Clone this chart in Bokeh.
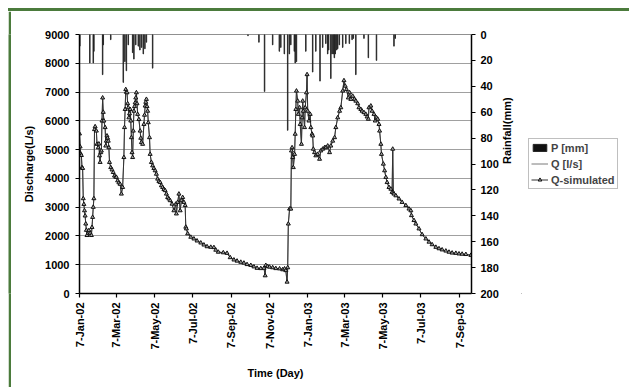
import math
from datetime import datetime
from bokeh.plotting import figure
from bokeh.layouts import row, column
from bokeh.models import (Range1d, LinearAxis, FixedTicker, Legend, LegendItem, Span, Div)
from bokeh.embed import file_html
from bokeh.resources import INLINE

# ---------------- data ----------------
start_date = datetime(2002, 1, 7)
tick_labels = ["7-Jan-02", "7-Mar-02", "7-May-02", "7-Jul-02", "7-Sep-02", "7-Nov-02",
               "7-Jan-03", "7-Mar-03", "7-May-03", "7-Jul-03", "7-Sep-03"]
x_end_day = 627

# discharge, days after 7-Jan-02
q_day = [0, 1, 2, 3, 4, 5, 6, 7, 8, 9, 10, 11, 12, 14, 15, 17, 19, 20, 21, 22, 23, 24, 25, 27, 28,
         30, 31, 32, 33, 34, 35, 36, 37, 38, 39, 41, 42, 43, 44, 45, 46, 47, 48, 50, 52, 54, 56, 58,
         59, 61, 63, 65, 67, 69, 71, 72, 73, 74, 75, 76, 77, 78, 79, 80, 81, 82, 83, 84, 85, 86, 87,
         88, 89, 90, 91, 92, 93, 95, 97, 98, 99, 101, 103, 104, 105, 106, 107, 108, 109, 110, 112,
         113, 115, 117, 119, 121, 123, 125, 127, 129, 131, 133, 135, 137, 139, 141, 143, 145, 148,
         151, 154, 155, 157, 159, 161, 163, 165, 167, 169, 170, 171, 173, 178, 183, 188, 194, 199,
         204, 210, 215, 218, 222, 230, 236, 241, 247, 252, 258, 263, 268, 274, 279, 284, 290, 295,
         297, 298, 301, 304, 309, 314, 320, 325, 328, 330, 332, 333, 334, 336, 338, 339, 340, 341,
         342, 344, 345, 346, 347, 349, 350, 352, 353, 355, 356, 357, 358, 360, 361, 363, 364, 365,
         367, 369, 370, 372, 373, 374, 376, 378, 381, 384, 386, 389, 392, 394, 397, 400, 402, 405,
         408, 410, 413, 416, 418, 421, 423, 425, 427, 430, 432, 434, 437, 440, 442, 445, 447, 450,
         452, 455, 458, 460, 462, 463, 466, 468, 471, 473, 475, 477, 479, 480, 482, 483, 486, 488,
         490, 492, 495, 498, 500, 501, 502, 503, 506, 511, 516, 522, 527, 530, 531, 535, 538, 543,
         548, 554, 559, 564, 570, 575, 580, 586, 591, 596, 602, 607, 612, 618, 626]
q_sim = [5550, 5100, 4850, 4800, 4380, 4350, 3300, 3100, 2880, 2700, 2420, 2200, 2020, 2100, 2190,
         2100, 2020, 2300, 2650, 3000, 3300, 5700, 5800, 5650, 5190, 5070, 5200, 4790, 4560, 4900,
         4960, 6000, 6800, 6300, 6000, 5770, 5130, 5300, 5480, 5400, 5300, 5070, 4560, 4380, 4300,
         4210, 4090, 4050, 4040, 3920, 3850, 3800, 3460, 3690, 4730, 5770, 6400, 7090, 7000, 6980,
         6600, 6460, 6110, 6250, 6400, 6000, 5420, 4900, 4730, 5650, 6340, 6500, 6630, 6800, 6980,
         6600, 6230, 6050, 5650, 5400, 5250, 5190, 5880, 6200, 6520, 6650, 6750, 6500, 6340, 5940,
         5420, 4840, 4560, 4440, 4350, 4270, 4150, 3980, 3900, 3860, 3750, 3690, 3620, 3580, 3460,
         3340, 3290, 3230, 3110, 2880, 3110, 2770, 3170, 3460, 2880, 3230, 3340, 3170, 3060, 2310,
         2250, 2080, 1960, 1900, 1830, 1760, 1690, 1630, 1610, 1600, 1510, 1440, 1420, 1400, 1250,
         1170, 1130, 1090, 1060, 1010, 980, 930, 880, 870, 880, 620, 980, 940, 920, 900, 870, 860,
         830, 860, 800, 400, 900, 2420, 2940, 2940, 4960, 5070, 4730, 4380, 4840, 5540, 6400, 7040,
         6690, 6230, 6460, 5880, 5190, 6110, 6690, 6340, 5770, 6460, 6980, 7610, 6340, 6000, 6230,
         5770, 5540, 5480, 5020, 4900, 4790, 4840, 4670, 4960, 5020, 5070, 5070, 5130, 4900, 5130,
         5300, 5420, 5770, 6110, 6340, 6460, 7040, 7400, 7210, 7090, 6800, 6980, 6750, 6860, 6750,
         6690, 6600, 6460, 6400, 6340, 6290, 6230, 6140, 6060, 6460, 6520, 6340, 6230, 6000, 6110,
         6060, 5880, 5650, 5190, 4840, 4500, 4270, 4040, 3860, 3690, 3630, 3520, 5020, 3500, 3460,
         3400, 3290, 3170, 3060, 2940, 2880, 2710, 2540, 2420, 2250, 2050, 1900, 1790, 1700, 1610,
         1560, 1520, 1480, 1440, 1410, 1400, 1380, 1370, 1360, 1330]
q_obs = list(q_sim)  # observed and simulated overlap throughout in the reference

# rainfall, days after 7-Jan-02 and depth in mm
rain_day = [0.5, 16.5, 22, 23, 37, 38, 50, 70, 72.6, 75, 78, 85, 87, 90, 94, 96.6, 99.3, 102, 104.6,
            107, 117, 269.5, 287, 296, 309, 319.6, 322, 327.6, 333, 335.6, 338, 343.6, 345, 347,
            362, 373, 378, 384.7, 389, 394, 397, 398.5, 402, 404, 406, 407.6, 409, 411.4, 413,
            415.6, 421, 426, 431.6, 436, 438, 442, 455, 462, 475, 503, 505]
rain_mm = [9, 22, 22, 13, 31, 8, 4, 37, 21, 28, 8, 14, 19, 8, 9, 12, 10, 15, 11, 6, 26, 1, 6, 44, 8,
           13, 10, 15, 74, 15, 8, 13, 22, 21, 13, 29, 13, 36, 10, 7, 15, 12, 34, 15, 15, 18, 15, 12,
           11, 8, 10, 7, 7, 4, 3, 31, 3, 18, 20, 9, 3]

q_ticks = list(range(0, 9001, 1000))
rain_ticks = list(range(0, 201, 20))

# ---------------- styles ----------------
tick_days = [(datetime.strptime(t, "%d-%b-%y") - start_date).days for t in tick_labels]

FONT = "Liberation Sans"
GREEN = "#4b7b3c"
BAR_FILL, BAR_LINE = "#111111", "#222222"
OBS_COLOR = "#7a7a7a"
SIM_COLOR = "#333333"
MK = dict(marker="triangle", size=4, fill_color="#a8a8a8", line_color="#111111", line_width=1)

MAIN_W, MAIN_H = 510, 376
LEG_W = 108
BAND = 3

# ---------------- main chart ----------------
p = figure(width=MAIN_W, height=MAIN_H, x_range=Range1d(0, x_end_day), y_range=Range1d(0, 9000),
           output_backend="svg", toolbar_location=None, title=None,
           min_border_left=68, min_border_right=MAIN_W - 68 - 392, min_border_top=23,
           min_border_bottom=MAIN_H - 23 - 259)
p.outline_line_color = None
p.background_fill_color = "white"
p.border_fill_color = "white"
p.extra_y_ranges = {"rain": Range1d(200, 0)}

p.xgrid.visible = False
p.ygrid.grid_line_color = "#a0a0a0"
p.ygrid.grid_line_width = 1
p.ygrid.ticker = FixedTicker(ticks=q_ticks)

def style_axis(ax):
    ax.axis_line_color = "black"
    ax.axis_line_width = 1.5
    ax.major_tick_line_color = "black"
    ax.major_tick_line_width = 1.2
    ax.major_tick_out = 4
    ax.major_tick_in = 0
    ax.minor_tick_line_color = None
    ax.major_label_text_font = FONT
    ax.major_label_text_font_style = "bold"
    ax.major_label_text_font_size = "11px"
    ax.major_label_text_color = "black"
    ax.axis_label_text_font = FONT
    ax.axis_label_text_font_style = "bold"
    ax.axis_label_text_font_size = "11px"
    ax.axis_label_text_color = "black"

xa = p.xaxis[0]
style_axis(xa)
xa.ticker = FixedTicker(ticks=tick_days)
xa.major_label_overrides = {d: l for d, l in zip(tick_days, tick_labels)}
xa.major_label_orientation = math.pi / 2
xa.major_label_standoff = 5
xa.axis_label = "Time (Day)"
xa.axis_label_standoff = 14

ya = p.yaxis[0]
style_axis(ya)
ya.ticker = FixedTicker(ticks=q_ticks)
ya.major_label_standoff = 6
ya.axis_label = "Discharge(L/s)"
ya.axis_label_standoff = 7

ra = LinearAxis(y_range_name="rain", ticker=FixedTicker(ticks=rain_ticks), axis_label="Rainfall(mm)")
style_axis(ra)
ra.major_label_standoff = 5
ra.axis_label_standoff = 5
try:
    ra.axis_label_orientation = math.pi / 2
except Exception:
    pass
p.add_layout(ra, "right")

p.vbar(x=rain_day, width=0.9, top=0, bottom=rain_mm, y_range_name="rain",
       fill_color=BAR_FILL, line_color=BAR_LINE, line_width=0.8)
p.line(q_day, q_obs, line_color=OBS_COLOR, line_width=1)
p.line(q_day, q_sim, line_color=SIM_COLOR, line_width=1)
p.scatter(q_day, q_sim, **MK)
p.add_layout(Span(location=9000, dimension="width", line_color="#222222", line_width=1.2))

# ---------------- legend panel (same glyph styles, sample kept outside its view) ----------------
pl = figure(width=LEG_W, height=MAIN_H, x_range=Range1d(0, 1), y_range=Range1d(0, 1),
            output_backend="svg", toolbar_location=None, x_axis_type=None, y_axis_type=None,
            min_border=0, title=None)
pl.outline_line_color = None
pl.grid.visible = False
pl.background_fill_color = "white"
pl.border_fill_color = "white"
lb = pl.vbar(x=[-5], width=0.1, top=[-5], bottom=[-6], fill_color=BAR_FILL, line_color=BAR_LINE)
lo = pl.line(x=[-5, -4], y=[-5, -5], line_color=OBS_COLOR, line_width=1)
ls = pl.line(x=[-5, -4], y=[-5, -5], line_color=SIM_COLOR, line_width=1)
lm = pl.scatter(x=[-5], y=[-5], **MK)

legend = Legend(items=[LegendItem(label="P [mm]", renderers=[lb]),
                       LegendItem(label="Q [l/s]", renderers=[lo]),
                       LegendItem(label="Q-simulated", renderers=[ls, lm])],
                location=(7, 104))
legend.label_text_font = FONT
legend.label_text_font_style = "bold"
legend.label_text_font_size = "11px"
legend.label_height = 13
legend.glyph_height = 9
legend.glyph_width = 17
legend.label_standoff = 3
legend.spacing = 3
legend.padding = 2
legend.margin = 0
legend.border_line_color = "#7f7f7f"
legend.border_line_width = 1
legend.background_fill_color = "white"
legend.background_fill_alpha = 1
pl.add_layout(legend)

# ---------------- green frame bands of the original figure ----------------
top_band = Div(text="", width=BAND + MAIN_W + LEG_W, height=BAND, margin=0,
               styles={"background-color": GREEN, "padding": "0", "overflow": "hidden"})
left_band = figure(width=BAND, height=MAIN_H, output_backend="svg", toolbar_location=None,
                   title=None, x_axis_type=None, y_axis_type=None, min_border=0,
                   x_range=Range1d(0, 1), y_range=Range1d(0, 1))
left_band.outline_line_color = None
left_band.grid.visible = False
left_band.background_fill_color = GREEN
left_band.border_fill_color = GREEN

layout = column(top_band, row(left_band, p, pl, spacing=0), spacing=0)
layout.styles = {"margin-left": "8px", "margin-top": "8px"}

open("out.html", "w").write(file_html(layout, INLINE))
